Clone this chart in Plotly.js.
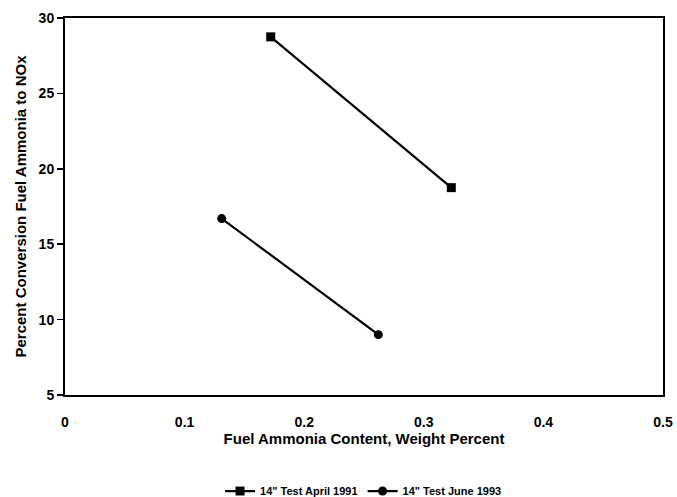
<!DOCTYPE html>
<html>
<head>
<meta charset="utf-8">
<script src="https://cdn.plot.ly/plotly-3.0.1.min.js"></script>
<style>html,body{margin:0;padding:0;background:#fff;}#chart{width:677px;height:497px;}</style>
</head>
<body>
<div id="chart"></div>
<script>
const seriesNames = ['14" Test April 1991', '14" Test June 1993'];
const aprilX = [0.172, 0.323];
const aprilY = [28.75, 18.75];
const juneX = [0.131, 0.262];
const juneY = [16.7, 9.0];
const xTicks = [0, 0.1, 0.2, 0.3, 0.4, 0.5];
const xTickText = ['0', '0.1', '0.2', '0.3', '0.4', '0.5'];
const yTicks = [5, 10, 15, 20, 25, 30];

const fontFam = '"Liberation Sans", Arial, sans-serif';
const traces = [
  {x: aprilX, y: aprilY, name: seriesNames[0], mode: 'lines+markers', type: 'scatter',
   line: {color: '#000', width: 2.2}, marker: {symbol: 'square', size: 9, color: '#000'}},
  {x: juneX, y: juneY, name: seriesNames[1], mode: 'lines+markers', type: 'scatter',
   line: {color: '#000', width: 2.2}, marker: {symbol: 'circle', size: 9, color: '#000'}}
];
const layout = {
  width: 677, height: 497,
  margin: {l: 65, r: 14, t: 18, b: 102},
  paper_bgcolor: '#fff', plot_bgcolor: '#fff',
  showlegend: true,
  legend: {orientation: 'h', x: 0.537, xanchor: 'center', xref: 'container',
           y: 0.012, yanchor: 'middle', yref: 'container', itemwidth: 30,
           font: {family: fontFam, size: 11, color: '#000', weight: 'bold'}},
  xaxis: {range: [0, 0.5], tickvals: xTicks, ticktext: xTickText, automargin: false,
          showgrid: false, zeroline: false, showline: true, mirror: true, linecolor: '#000', linewidth: 2,
          ticks: '', ticklabelstandoff: 13,
          tickfont: {family: fontFam, size: 14, color: '#000', weight: 'bold'},
          title: {text: 'Fuel Ammonia Content, Weight Percent', standoff: 2,
                  font: {family: fontFam, size: 15, color: '#000', weight: 'bold'}}},
  yaxis: {range: [5, 30], tickvals: yTicks, automargin: false,
          showgrid: false, zeroline: false, showline: true, mirror: true, linecolor: '#000', linewidth: 2,
          ticks: 'outside', ticklen: 6, tickwidth: 1.5, tickcolor: '#000',
          tickfont: {family: fontFam, size: 14, color: '#000', weight: 'bold'},
          title: {text: 'Percent Conversion Fuel Ammonia to NOx', standoff: 8,
                  font: {family: fontFam, size: 15, color: '#000', weight: 'bold'}}}
};
Plotly.newPlot('chart', traces, layout, {displayModeBar: false, staticPlot: true});
</script>
</body>
</html>
